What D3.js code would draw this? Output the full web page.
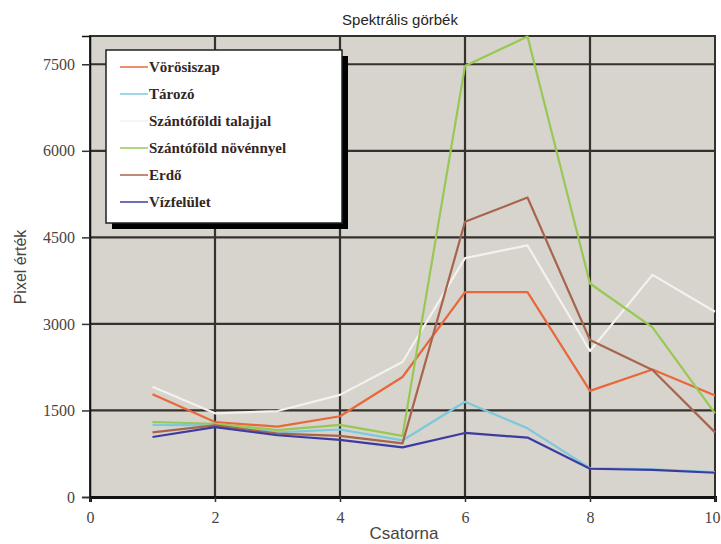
<!DOCTYPE html>
<html><head><meta charset="utf-8">
<script src="https://cdn.jsdelivr.net/npm/d3@7"></script>
<style>body{margin:0;background:#fff}</style>
</head><body><svg id="c" width="721" height="544"></svg>
<script>
const channels = [1,2,3,4,5,6,7,8,9,10];
const seriesNames = ["Vörösiszap","Tározó","Szántóföldi talajjal","Szántóföld növénnyel","Erdő","Vízfelület"];
const seriesColors = ["#e8683c","#7cc8dc","#f4f2ec","#98c854","#a8644c","#3c3ca0"];
const voros   = [1780,1300,1220,1400,2080,3550,3550,1840,2210,1760];
const tarozo  = [1250,1240,1120,1170,980,1650,1190,500,480,430];
const talaj   = [1910,1450,1490,1770,2340,4140,4360,2530,3850,3210];
const noveny  = [1300,1270,1160,1250,1060,7470,7980,3700,2940,1450];
const erdo    = [1120,1240,1100,1060,930,4770,5190,2720,2200,1120];
const viz     = [1040,1210,1070,990,860,1110,1030,490,470,420];
const seriesValues = [voros,tarozo,talaj,noveny,erdo,viz];
const xTicks = [0,2,4,6,8,10];
const yTicks = [0,1500,3000,4500,6000,7500];

const svg = d3.select("#c");
const L=90, R=715, T=36, B=497;
const x = d3.scaleLinear().domain([0,10]).range([L,R]);
const y = d3.scaleLinear().domain([0,7990]).range([B,T]);

svg.append("rect").attr("x",L).attr("y",T).attr("width",R-L).attr("height",B-T).attr("fill","#d7d3cd");

const g = svg.append("g");
g.selectAll(".vg").data(xTicks.filter(d=>d>0&&d<10)).join("line")
  .attr("x1",d=>x(d)).attr("x2",d=>x(d)).attr("y1",T).attr("y2",B)
  .attr("stroke","#35312d").attr("stroke-width",2.2);
g.selectAll(".hg").data(yTicks.filter(d=>d>0)).join("line")
  .attr("x1",L).attr("x2",R).attr("y1",d=>y(d)).attr("y2",d=>y(d))
  .attr("stroke","#35312d").attr("stroke-width",2.2);
svg.append("rect").attr("x",L).attr("y",T).attr("width",R-L).attr("height",B-T)
  .attr("fill","none").attr("stroke","#35312d").attr("stroke-width",2);

const line = d3.line().x((d,i)=>x(channels[i])).y(d=>y(d));
seriesValues.forEach((vals,k)=>{
  svg.append("path").datum(vals).attr("d",line).attr("fill","none")
    .attr("stroke",seriesColors[k]).attr("stroke-width",2.2).attr("stroke-linejoin","round");
});

const xAxis = svg.append("g").attr("transform",`translate(0,${B})`)
  .call(d3.axisBottom(x).tickValues(xTicks).tickSize(5).tickPadding(10).tickFormat(d3.format("d")));
const yAxis = svg.append("g").attr("transform",`translate(${L},0)`)
  .call(d3.axisLeft(y).tickValues(yTicks).tickSize(8).tickPadding(7).tickFormat(d3.format("d")));
[xAxis,yAxis].forEach(a=>{
  a.select(".domain").attr("stroke","#111").attr("stroke-width",a===xAxis?3:1.5);
  a.selectAll(".tick line").attr("stroke","#333").attr("stroke-width",1.5);
  a.selectAll("text").attr("font-family","Liberation Serif, serif").attr("font-size",16).attr("fill","#4a4440");
});
// keep last x label inside the page
xAxis.selectAll(".tick text").filter(d=>d===10).attr("text-anchor","end").attr("x",5);

svg.append("text").attr("x",400).attr("y",25).attr("text-anchor","middle")
  .attr("font-family","Liberation Sans, Arial, sans-serif").attr("font-size",15).attr("fill","#2a2420")
  .text("Spektrális görbék");
svg.append("text").attr("x",404).attr("y",539).attr("text-anchor","middle")
  .attr("font-family","Liberation Sans, Arial, sans-serif").attr("font-size",17).attr("fill","#4a4440")
  .text("Csatorna");
svg.append("text").attr("transform","translate(26,267) rotate(-90)").attr("text-anchor","middle")
  .attr("font-family","Liberation Sans, Arial, sans-serif").attr("font-size",16).attr("fill","#4a4440")
  .text("Pixel érték");

const lx=106, ly=50, lw=236, lh=173;
svg.append("rect").attr("x",lx+6).attr("y",ly+6).attr("width",lw).attr("height",lh).attr("fill","#000");
svg.append("rect").attr("x",lx).attr("y",ly).attr("width",lw).attr("height",lh).attr("fill","#fff")
  .attr("stroke","#222").attr("stroke-width",1.5);
const leg = svg.append("g").selectAll("g").data(seriesNames).join("g")
  .attr("transform",(d,i)=>`translate(${lx},${ly+17+i*27})`);
leg.append("line").attr("x1",14).attr("x2",42).attr("y1",0).attr("y2",0)
  .attr("stroke",(d,i)=>seriesColors[i]).attr("stroke-width",1.5);
leg.append("text").attr("x",43).attr("y",5).text(d=>d)
  .attr("font-family","Liberation Serif, serif").attr("font-weight","bold").attr("font-size",15).attr("fill","#33261f");
</script></body></html>
